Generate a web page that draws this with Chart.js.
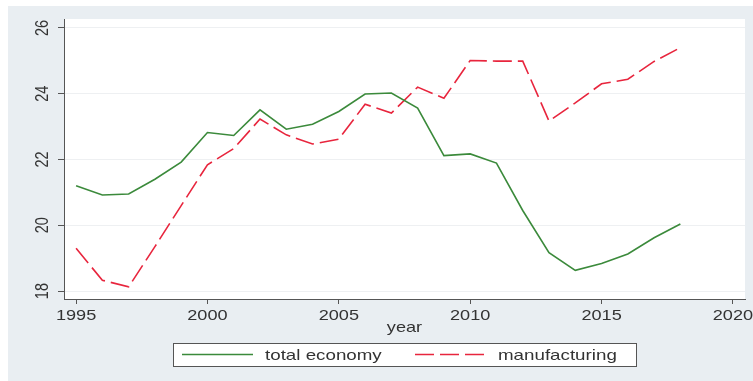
<!DOCTYPE html>
<html lang="en">
<head>
    <meta charset="UTF-8">
    <title>Total economy vs manufacturing</title>
    <script src="https://cdn.jsdelivr.net/npm/chart.js"></script>
    <style>
        body { margin: 0; background: #ffffff; }
        canvas { display: block; }
    </style>
</head>
<body>
    <canvas id="chart" width="753" height="381"></canvas>

    <script>
        // data
        const years = [1995, 1996, 1997, 1998, 1999, 2000, 2001, 2002, 2003, 2004, 2005, 2006,
                       2007, 2008, 2009, 2010, 2011, 2012, 2013, 2014, 2015, 2016, 2017, 2018];
        const totalEconomy = [21.2, 20.92, 20.95, 21.4, 21.92, 22.82, 22.73, 23.51, 22.92, 23.07, 23.46, 23.99,
                              24.02, 23.56, 22.12, 22.17, 21.89, 20.45, 19.17, 18.63, 18.84, 19.13, 19.62, 20.04];
        const manufacturing = [19.3, 18.33, 18.13, 19.35, 20.6, 21.84, 22.33, 23.23, 22.75, 22.47, 22.62, 23.68,
                               23.41, 24.2, 23.86, 25.01, 24.99, 24.99, 23.17, 23.72, 24.3, 24.44, 24.98, 25.4];
        const xTicks = [1995, 2000, 2005, 2010, 2015, 2020];
        const yTicks = [18, 20, 22, 24, 26];

        const bgGray = '#e9eef2';
        const axisColor = '#555555';
        const textColor = '#333333';
        const fontFamily = '"Liberation Sans", Arial, sans-serif';
        const stretch = 1.25; // the original picture is stretched sideways

        // stata-like background: gray frame, white plot region
        const backgroundPlugin = {
            id: 'background',
            beforeDraw(chart) {
                const ctx = chart.ctx;
                const a = chart.chartArea;
                ctx.save();
                ctx.fillStyle = '#ffffff';
                ctx.fillRect(0, 0, chart.width, chart.height);
                ctx.fillStyle = bgGray;
                ctx.fillRect(8, 6, chart.width - 8, chart.height - 6);
                ctx.fillStyle = '#ffffff';
                ctx.fillRect(a.left, a.top, a.right - a.left, a.bottom - a.top);
                ctx.restore();
            }
        };

        function wideText(ctx, text, x, y, rotate) {
            ctx.save();
            ctx.translate(x, y);
            ctx.scale(stretch, 1);
            if (rotate) ctx.rotate(-Math.PI / 2);
            ctx.fillText(text, 0, 0);
            ctx.restore();
        }

        // tick labels, axis title and the boxed legend
        const labelsPlugin = {
            id: 'labels',
            afterDraw(chart) {
                const ctx = chart.ctx;
                const xScale = chart.scales.x;
                const yScale = chart.scales.y;
                const a = chart.chartArea;
                ctx.save();
                ctx.fillStyle = textColor;
                ctx.font = '14.5px ' + fontFamily;
                ctx.textAlign = 'center';
                ctx.textBaseline = 'alphabetic';
                yTicks.forEach(v => wideText(ctx, String(v), 48, yScale.getPixelForValue(v), true));
                xTicks.forEach(v => wideText(ctx, String(v), xScale.getPixelForValue(v), 320));
                wideText(ctx, 'year', (a.left + a.right) / 2, 331.5);

                // legend box
                ctx.fillStyle = '#ffffff';
                ctx.fillRect(173.5, 343.5, 463, 23);
                ctx.strokeStyle = axisColor;
                ctx.lineWidth = 1;
                ctx.strokeRect(173.5, 343.5, 463, 23);

                const entries = [
                    { x: 182, textX: 265 },
                    { x: 415, textX: 498 }
                ];
                ctx.font = '15px ' + fontFamily;
                ctx.textAlign = 'left';
                chart.data.datasets.forEach((ds, i) => {
                    const e = entries[i];
                    ctx.strokeStyle = ds.borderColor;
                    ctx.lineWidth = ds.borderWidth;
                    ctx.setLineDash(ds.borderDash || []);
                    ctx.beginPath();
                    ctx.moveTo(e.x, 354.5);
                    ctx.lineTo(e.x + 71, 354.5);
                    ctx.stroke();
                    ctx.setLineDash([]);
                    ctx.fillStyle = textColor;
                    wideText(ctx, ds.label, e.textX, 359.5);
                });
                ctx.restore();
            }
        };

        const ctx = document.getElementById('chart').getContext('2d');
        const chart = new Chart(ctx, {
            type: 'line',
            data: {
                labels: years,
                datasets: [
                    {
                        label: 'total economy',
                        data: years.map((y, i) => ({ x: y, y: totalEconomy[i] })),
                        borderColor: '#3b8a3b',
                        borderWidth: 1.6,
                        pointRadius: 0,
                        tension: 0,
                        fill: false
                    },
                    {
                        label: 'manufacturing',
                        data: years.map((y, i) => ({ x: y, y: manufacturing[i] })),
                        borderColor: '#e8253d',
                        borderWidth: 1.6,
                        borderDash: [19, 6],
                        pointRadius: 0,
                        tension: 0,
                        fill: false
                    }
                ]
            },
            options: {
                responsive: false,
                animation: false,
                layout: { padding: { left: 0, top: 19, right: 8, bottom: 44 } },
                plugins: {
                    legend: { display: false },
                    tooltip: { enabled: false }
                },
                scales: {
                    x: {
                        type: 'linear',
                        min: 1994.54,
                        max: 2020.46,
                        afterBuildTicks: s => { s.ticks = xTicks.map(v => ({ value: v })); },
                        afterFit: s => { s.height = 38; },
                        border: { display: true, color: axisColor, width: 1 },
                        grid: { drawOnChartArea: false, drawTicks: true, tickLength: 5, tickColor: axisColor },
                        ticks: { display: false }
                    },
                    y: {
                        min: 17.76,
                        max: 26.27,
                        afterBuildTicks: s => { s.ticks = yTicks.map(v => ({ value: v })); },
                        afterFit: s => { s.width = 64; },
                        border: { display: true, color: axisColor, width: 1 },
                        grid: { color: '#eef0f2', lineWidth: 1, drawTicks: true, tickLength: 6, tickColor: axisColor },
                        ticks: { display: false }
                    }
                }
            },
            plugins: [backgroundPlugin, labelsPlugin]
        });
    </script>
</body>
</html>
